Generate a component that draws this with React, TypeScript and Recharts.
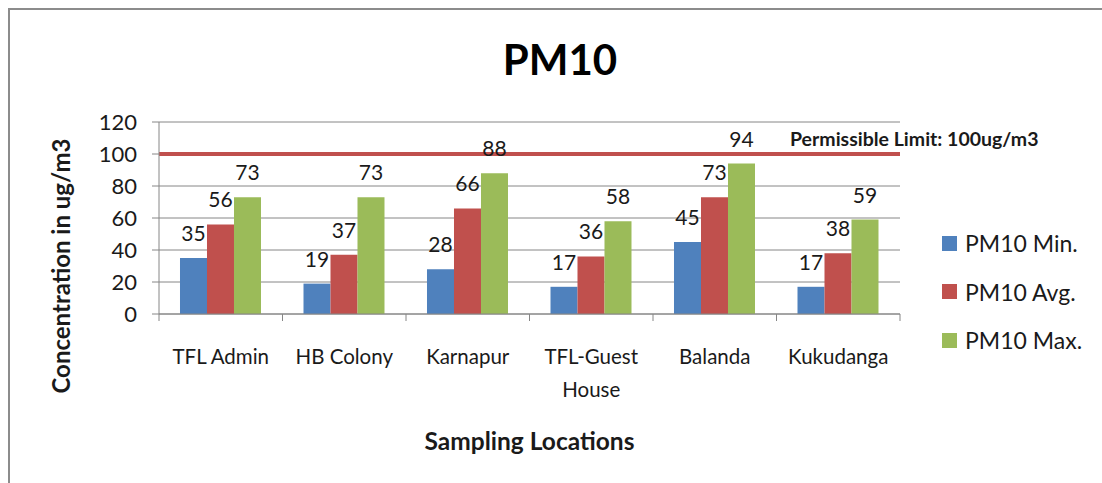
import { BarChart, Bar, XAxis, YAxis, CartesianGrid, ReferenceLine, LabelList, Legend } from 'recharts'

const locations = ['TFL Admin', 'HB Colony', 'Karnapur', 'TFL-Guest House', 'Balanda', 'Kukudanga']
const pm10Min = [35, 19, 28, 17, 45, 17]
const pm10Avg = [56, 37, 66, 36, 73, 38]
const pm10Max = [73, 73, 88, 58, 94, 59]
const yTicks = [0, 20, 40, 60, 80, 100, 120]
const permissibleLimit = 100

const series = [
  { key: 'min', name: 'PM10 Min.', color: '#4F81BD' },
  { key: 'avg', name: 'PM10 Avg.', color: '#C0504D' },
  { key: 'max', name: 'PM10 Max.', color: '#9BBB59' },
]

const data = locations.map((location, i) => ({
  location,
  min: pm10Min[i],
  avg: pm10Avg[i],
  max: pm10Max[i],
}))

const FONT = "Lato, 'Noto Sans', sans-serif"
const GRID = '#868686'
const TEXT = '#1a1a1a'

// category label plus tick marks on the band edges (Excel style)
function LocationTick({ x, y, payload, index }: any) {
  const label = String(payload.value)
  const cut = label.lastIndexOf(' ')
  const lines = label.length > 12 ? [label.slice(0, cut), label.slice(cut + 1)] : [label]
  const half = payload.offset ?? 0
  return (
    <g>
      <line x1={x - half} x2={x - half} y1={y} y2={y + 7} stroke={GRID} />
      {index === locations.length - 1 && <line x1={x + half} x2={x + half} y1={y} y2={y + 7} stroke={GRID} />}
      <text x={x} y={y} textAnchor="middle" fontFamily={FONT} fontSize={20.5} fill={TEXT}>
        {lines.map((line, i) => (
          <tspan key={i} x={x} dy={i === 0 ? 50 : 33}>
            {line}
          </tspan>
        ))}
      </text>
    </g>
  )
}

function LimitLabel({ viewBox }: any) {
  const right = viewBox.x + viewBox.width
  return (
    <text x={right - 110} y={viewBox.y - 8} fontFamily={FONT} fontSize={19.5} fontWeight="bold" fill={TEXT}>
      {`Permissible Limit: ${permissibleLimit}ug/m3`}
    </text>
  )
}

function YTitle({ viewBox }: any) {
  const cx = viewBox.x + 60
  const cy = viewBox.y + viewBox.height / 2 + 48
  return (
    <text
      x={cx}
      y={cy}
      transform={`rotate(-90 ${cx} ${cy})`}
      textAnchor="middle"
      dominantBaseline="central"
      fontFamily={FONT}
      fontSize={24}
      fontWeight="bold"
      fill={TEXT}
    >
      Concentration in ug/m3
    </text>
  )
}

function XTitle({ viewBox }: any) {
  return (
    <text
      x={viewBox.x + viewBox.width / 2}
      y={viewBox.y + 136}
      textAnchor="middle"
      fontFamily={FONT}
      fontSize={24.5}
      fontWeight="bold"
      fill={TEXT}
    >
      Sampling Locations
    </text>
  )
}

function LegendBox() {
  return (
    <div style={{ fontFamily: FONT, fontSize: 23, color: TEXT }}>
      {series.map((s) => (
        <div key={s.key} style={{ height: 48.5, display: 'flex', alignItems: 'center', whiteSpace: 'nowrap' }}>
          <span style={{ width: 15, height: 15, background: s.color, marginRight: 8, display: 'inline-block' }} />
          {s.name}
        </div>
      ))}
    </div>
  )
}

export default function App() {
  return (
    <div style={{ position: 'fixed', left: 0, top: 0, width: 1102, height: 483, background: '#fff' }}>
      <div
        style={{
          position: 'absolute',
          left: 8,
          top: 8,
          right: 0,
          bottom: 0,
          borderTop: '2px solid #8c8c8c',
          borderLeft: '2px solid #8c8c8c',
        }}
      />
      <div style={{ position: 'absolute', left: 0, top: 0 }}>
        <BarChart
          width={1102}
          height={483}
          data={data}
          margin={{ top: 122, right: 202, bottom: 0, left: 0 }}
          barCategoryGap="17%"
          barGap={0}
        >
          <text x={560} y={75} textAnchor="middle" fontFamily={FONT} fontSize={42} fontWeight="bold" fill="#000">
            PM10
          </text>
          <CartesianGrid vertical={false} stroke={GRID} strokeWidth={1} />
          <XAxis
            dataKey="location"
            height={169}
            tickLine={false}
            axisLine={{ stroke: GRID }}
            tickSize={0}
            tickMargin={0}
            interval={0}
            tick={<LocationTick />}
            label={(props: any) => <XTitle {...props} />}
          />
          <YAxis
            width={159}
            domain={[0, 120]}
            ticks={yTicks}
            interval={0}
            tickSize={7}
            tickMargin={15}
            tickLine={{ stroke: GRID }}
            axisLine={{ stroke: GRID }}
            tick={{ fontSize: 22, fill: TEXT, fontFamily: FONT }}
            label={(props: any) => <YTitle {...props} />}
          />
          {series.map((s) => (
            <Bar key={s.key} dataKey={s.key} name={s.name} fill={s.color} isAnimationActive={false}>
              <LabelList dataKey={s.key} position="top" offset={17} fontSize={21} fill={TEXT} fontFamily={FONT} />
            </Bar>
          ))}
          <ReferenceLine
            y={permissibleLimit}
            stroke="#C0504D"
            strokeWidth={4}
            label={(props: any) => <LimitLabel {...props} />}
          />
          <Legend
            layout="vertical"
            align="center"
            verticalAlign="middle"
            wrapperStyle={{ left: 942, top: 219, width: 160, height: 'auto' }}
            content={() => <LegendBox />}
          />
        </BarChart>
      </div>
    </div>
  )
}
